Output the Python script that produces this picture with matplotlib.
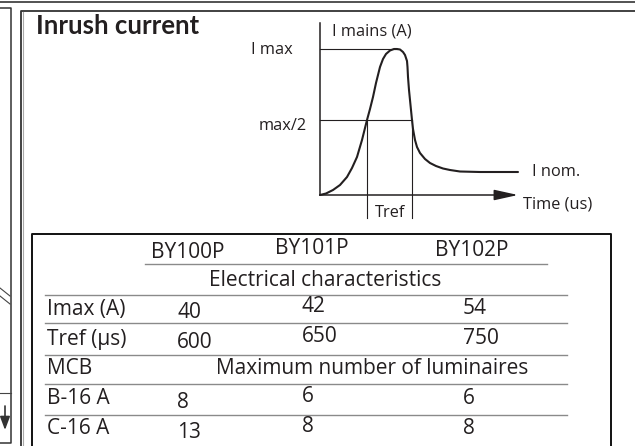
import matplotlib
matplotlib.use('Agg')
import matplotlib.pyplot as plt

# inrush curve, schematic (time, current)
t_curve = [0, 6, 13, 20, 27, 32, 37, 42, 47, 50, 53, 56, 60, 63, 66, 70, 74, 77,
           80, 83, 85, 87, 87.5, 88, 89, 90, 91, 92, 93, 95, 97, 100, 105, 110,
           116, 123, 130, 140, 160, 198]
i_curve = [0, 1.5, 5, 10, 18, 27, 38, 55, 75, 86, 98, 112, 128, 136, 141, 144.5,
           146, 146, 145.5, 143, 140, 134, 128, 118, 105, 95, 85, 75, 66, 55,
           48, 42, 36, 32, 29, 26.5, 25, 23.5, 23, 23]
i_max = 146
i_half = 75
i_nom = 23
t_ref = [47, 92]

# table data
models = ['BY100P', 'BY101P', 'BY102P']
imax = [40, 42, 54]
tref = [600, 650, 750]
mcb = ['B-16 A', 'C-16 A']
max_lum = [[8, 6, 6], [13, 8, 8]]

W, H = 635, 446
fig = plt.figure(figsize=(W / 100, H / 100), dpi=100)
fig.patch.set_facecolor('white')

ink = '#231f20'
grey = '#8a8a8a'
tfont = 'Open Sans'

# background axes in pixel coordinates
bg = fig.add_axes([0, 0, 1, 1])
bg.set_xlim(0, W)
bg.set_ylim(H, 0)
bg.axis('off')

# page frame bits
bg.plot([0, W], [1.5, 1.5], color='#444', lw=1.3)
bg.plot([0, 10.5, 10.5, 0], [8, 8, 443, 443], color='#333', lw=1.1)
bg.plot([0, 10], [288, 296], color='#444', lw=0.8)
bg.plot([0, 10], [296, 304], color='#444', lw=0.8)
bg.plot([0, 10.5], [393, 393], color='#444', lw=0.8)
bg.annotate('', xy=(5, 430), xytext=(5, 406),
            arrowprops=dict(arrowstyle='-|>,head_length=0.8,head_width=0.3',
                            mutation_scale=10, lw=1.2, color='#333',
                            shrinkA=0, shrinkB=0))
bg.plot([20.5, 20.5, W], [H, 11, 11], color='#333', lw=1.3)
bg.plot([22.5, 22.5], [12, H], color='#aaa', lw=0.8)

bg.text(36, 26, 'Inrush current', fontsize=18.5, fontweight='bold',
        family='Lato', color=ink, va='center', ha='left')

# table box
bg.plot([31.5, 31.5, 611, 611], [H, 234, 234, H], color='#111', lw=1.4)
bg.plot([145, 547], [264, 264], color=grey, lw=1.0)
for yl in [295, 323, 355, 384, 415]:
    bg.plot([45, 567], [yl, yl], color=grey, lw=1.0)

fs = 15
hdr_x = [188, 312, 472]
hdr_y = [252, 249, 251]
for m, x, y in zip(models, hdr_x, hdr_y):
    bg.text(x, y, m, fontsize=fs, family=tfont, color=ink, ha='center', va='center')

bg.text(325, 280, 'Electrical characteristics', fontsize=fs, family=tfont,
        color=ink, ha='center', va='center')
bg.text(372, 369, 'Maximum number of luminaires', fontsize=fs, family=tfont,
        color=ink, ha='center', va='center')

lab_x = 47
val_x = [177, 302, 463]
val_dy = [4, -2, 0]
rows = [('Imax (A)', imax, 309), ('Tref (µs)', tref, 339), ('MCB', None, 369),
        (mcb[0], max_lum[0], 399), (mcb[1], max_lum[1], 429)]
for lab, vals, y in rows:
    bg.text(lab_x, y, lab, fontsize=fs, family=tfont, color=ink, ha='left', va='center')
    if vals is None:
        continue
    for v, x, dy in zip(vals, val_x, val_dy):
        bg.text(x, y + dy, str(v), fontsize=fs, family=tfont, color=ink,
                ha='left', va='center')

# inrush diagram axes
ax = fig.add_axes([320 / W, 1 - 195 / H, 200 / W, 173 / H])
ax.set_xlim(0, 200)
ax.set_ylim(0, 173)
ax.axis('off')

ax.plot([0, 0], [0, 172], color=ink, lw=1.1, clip_on=False)
ax.annotate('', xy=(198, 0), xytext=(0, 0), annotation_clip=False,
            arrowprops=dict(arrowstyle='-|>,head_length=1.45,head_width=0.32',
                            mutation_scale=10, lw=1.1, color=ink,
                            shrinkA=0, shrinkB=0))
ax.plot([0, 77], [i_max, i_max], color=ink, lw=0.8, clip_on=False)
ax.plot([0, t_ref[1]], [i_half, i_half], color=ink, lw=0.8, clip_on=False)
for tr in t_ref:
    ax.plot([tr, tr], [i_half, -23], color=ink, lw=0.8, clip_on=False)
ax.plot(t_curve, i_curve, color=ink, lw=1.5, clip_on=False,
        solid_joinstyle='round', solid_capstyle='round')

lf = 11.8
ax.text(12, 163, 'I mains (A)', fontsize=lf, family=tfont, color=ink, va='center')
ax.text(-27, 145, 'I max', fontsize=lf, family=tfont, color=ink, va='center', ha='right')
ax.text(-13, 69, 'max/2', fontsize=lf, family=tfont, color=ink, va='center', ha='right')
ax.text(212, i_nom, 'I nom.', fontsize=lf, family=tfont, color=ink, va='center')
ax.text(203, -9, 'Time (us)', fontsize=lf, family=tfont, color=ink, va='center')
ax.text(70, -18, 'Tref', fontsize=lf, family=tfont, color=ink, va='center', ha='center')

fig.savefig('out.png', dpi=100)
